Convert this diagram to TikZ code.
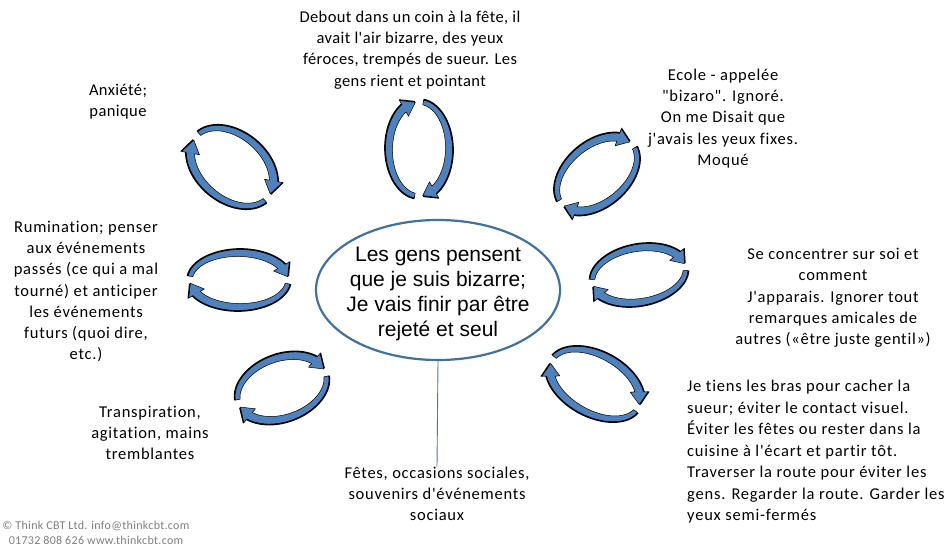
\documentclass[tikz,border=0pt]{standalone}
\usepackage{fontspec}
\setmainfont{Carlito}[Ligatures={TeXOff,NoCommon}]
\newfontfamily\arialfont{Liberation Sans}[Ligatures=TeXOff]
\usetikzlibrary{shapes.geometric}

\definecolor{arrowblue}{RGB}{79,129,189}
\definecolor{ringblue}{RGB}{65,113,156}
\definecolor{stemblue}{RGB}{68,114,196}
\definecolor{notegray}{RGB}{127,127,127}

% One curved arrow of a cycle, in the local frame of its ellipse
% (#1 = tail angle, #2 = angle of the head base, #3 = angle of the tip)
\newcommand\bandpath[3]{%
  plot[domain=#1:#2, samples=30, variable=\t]
    ({(\ra+\roff+2.4+1.8*(\t-#1)/(#2-#1))*cos(\t)},{(\rb+\roff+2.4+1.8*(\t-#1)/(#2-#1))*sin(\t)})
  -- ({(\ra+\roff+9)*cos(#2)},{(\rb+\roff+9)*sin(#2)})
  -- ({(\ra+\roff)*cos(#3)},{(\rb+\roff)*sin(#3)})
  -- ({(\ra+\roff-9)*cos(#2)},{(\rb+\roff-9)*sin(#2)})
  -- plot[domain=#2:#1, samples=30, variable=\t]
    ({(\ra+\roff-2.4-1.8*(\t-#1)/(#2-#1))*cos(\t)},{(\rb+\roff-2.4-1.8*(\t-#1)/(#2-#1))*sin(\t)})
  -- cycle}

% A pair of clockwise arrows on an ellipse:
% centre x, centre y (from the top), half axes, tilt
\newcommand\ringcycle[5]{%
  \begin{scope}[shift={(#1,550-#2)}, rotate=#5]
    \def\ra{#3}\def\rb{#4}%
    \def\roff{1.4}%
    \fill[black] \bandpath{172}{30}{7};
    \fill[black] \bandpath{352}{210}{187};
    \def\roff{0}%
    \filldraw[fill=arrowblue, draw=black, line width=0.5pt] \bandpath{172}{30}{7};
    \filldraw[fill=arrowblue, draw=black, line width=0.5pt] \bandpath{352}{210}{187};
  \end{scope}}

\tikzset{
  note/.style={font=\fontsize{16.5}{21.3}\selectfont\addfontfeature{LetterSpace=#1},
    align=center, inner sep=0pt},
  note/.default=4.5,
  leftnote/.style={font=\fontsize{16.5}{21.5}\selectfont\addfontfeature{LetterSpace=4.8},
    align=left, inner sep=0pt},
  ring/.style={ellipse, draw=ringblue, line width=2.2pt, minimum width=244pt,
    minimum height=140pt, inner sep=0pt},
  coretext/.style={align=center, inner sep=0pt,
    font=\arialfont\fontsize{21}{25}\selectfont},
  stem/.style={draw=stemblue, line width=0.9pt},
  credit/.style={font=\fontsize{12}{15}\selectfont\addfontfeature{LetterSpace=2.5},
    text=notegray, align=center, inner sep=0pt}
}

\begin{document}
\begin{tikzpicture}[x=1pt, y=1pt]
  \useasboundingbox (0,0) rectangle (951,550);
  \fill[white] (0,0) rectangle (951,550);

  % central belief
  \node[ring] (core) at (438,550-290) {};
  \node[coretext] (belief) at (438,550-293.5) {Les gens pensent\\que je suis bizarre;\\Je vais finir par être\\rejeté et seul};

  % surrounding notes
  \node[note=2.5] (anx) at (118,550-101.5) {Anxiété;\\panique};
  \node[note=2.5] (party) at (410,550-50) {Debout dans un coin à la fête, il\\avait l'air bizarre, des yeux\\féroces, trempés de sueur. Les\\gens rient et pointant};
  \node[note] (school) at (723,550-118.5) {Ecole - appelée\\"bizaro". Ignoré.\\On me Disait que\\j'avais les yeux fixes.\\Moqué};
  \node[note] (focus) at (833,550-298) {Se concentrer sur soi et\\comment\\J'apparais. Ignorer tout\\remarques amicales de\\autres («être juste gentil»)};
  \node[leftnote, anchor=west] (safety) at (687,550-452) {Je tiens les bras pour cacher la\\sueur; éviter le contact visuel.\\Éviter les fêtes ou rester dans la\\cuisine à l'écart et partir tôt.\\Traverser la route pour éviter les\\gens. Regarder la route. Garder les\\yeux semi-fermés};
  \node[note] (fetes) at (437,550-494) {Fêtes, occasions sociales,\\souvenirs d'événements\\sociaux};
  \node[note] (sweat) at (150,550-433) {Transpiration,\\agitation, mains\\tremblantes};
  \node[note] (rumin) at (86,550-291.5) {Rumination; penser\\aux événements\\passés (ce qui a mal\\tourné) et anticiper\\les événements\\futurs (quoi dire,\\etc.)};
  \node[credit] (copy) at (96,550-532.5) {© Think CBT Ltd. info@thinkcbt.com\\01732 808 626 www.thinkcbt.com};

  % link from the belief to the trigger
  \draw[stem] (core.south) -- (fetes.north);

  % cycles
  \ringcycle{232}{167}{47}{32}{-40}
  \ringcycle{419}{149}{47}{30}{90}
  \ringcycle{597}{174}{46}{29}{40}
  \ringcycle{639}{275}{47}{27}{10}
  \ringcycle{595}{384}{49}{29}{-29}
  \ringcycle{282}{388}{46}{30}{20}
  \ringcycle{239}{280}{49}{27}{0}
\end{tikzpicture}
\end{document}
